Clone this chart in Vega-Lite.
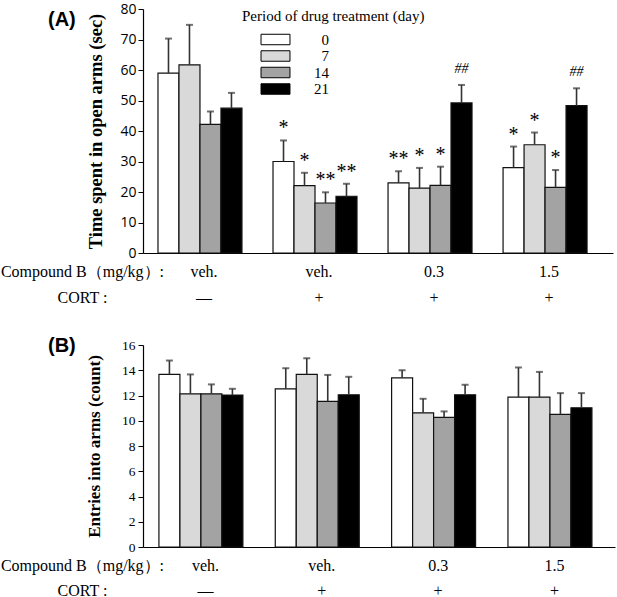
{
  "$schema": "https://vega.github.io/schema/vega-lite/v6.json",
  "padding": {"left": 0, "top": 2, "right": 2, "bottom": 0},
  "background": "white",
  "config": {"view": {"stroke": null}, "font": "Liberation Serif"},
  "spacing": 31,
  "resolve": {"scale": {"fill": "independent", "y": "independent", "x": "independent"}, "legend": {"fill": "independent"}},
  "datasets": {
    "openArms": [
      {"group": "veh.|—", "day": "0", "mean": 59.0, "upper": 70.3, "sig": null},
      {"group": "veh.|—", "day": "7", "mean": 61.7, "upper": 74.8, "sig": null},
      {"group": "veh.|—", "day": "14", "mean": 42.2, "upper": 46.4, "sig": null},
      {"group": "veh.|—", "day": "21", "mean": 47.5, "upper": 52.5, "sig": null},
      {"group": "veh.|+", "day": "0", "mean": 30.0, "upper": 36.9, "sig": "*"},
      {"group": "veh.|+", "day": "7", "mean": 22.1, "upper": 26.3, "sig": "*"},
      {"group": "veh.|+", "day": "14", "mean": 16.4, "upper": 19.9, "sig": "**"},
      {"group": "veh.|+", "day": "21", "mean": 18.6, "upper": 22.7, "sig": "**"},
      {"group": "0.3|+", "day": "0", "mean": 23.0, "upper": 26.8, "sig": "**"},
      {"group": "0.3|+", "day": "7", "mean": 21.3, "upper": 27.9, "sig": "*"},
      {"group": "0.3|+", "day": "14", "mean": 22.2, "upper": 28.3, "sig": "*"},
      {"group": "0.3|+", "day": "21", "mean": 49.2, "upper": 55.1, "sig": "##"},
      {"group": "1.5|+", "day": "0", "mean": 28.0, "upper": 34.9, "sig": "*"},
      {"group": "1.5|+", "day": "7", "mean": 35.5, "upper": 39.5, "sig": "*"},
      {"group": "1.5|+", "day": "14", "mean": 21.5, "upper": 27.2, "sig": "*"},
      {"group": "1.5|+", "day": "21", "mean": 48.3, "upper": 54.0, "sig": "##"}
    ],
    "entries": [
      {"group": "veh.|—", "day": "0", "mean": 13.67, "upper": 14.77},
      {"group": "veh.|—", "day": "7", "mean": 12.13, "upper": 13.67},
      {"group": "veh.|—", "day": "14", "mean": 12.13, "upper": 12.88},
      {"group": "veh.|—", "day": "21", "mean": 12.03, "upper": 12.53},
      {"group": "veh.|+", "day": "0", "mean": 12.53, "upper": 14.16},
      {"group": "veh.|+", "day": "7", "mean": 13.67, "upper": 14.95},
      {"group": "veh.|+", "day": "14", "mean": 11.53, "upper": 13.63},
      {"group": "veh.|+", "day": "21", "mean": 12.06, "upper": 13.48},
      {"group": "0.3|+", "day": "0", "mean": 13.4, "upper": 14.0},
      {"group": "0.3|+", "day": "7", "mean": 10.63, "upper": 11.74},
      {"group": "0.3|+", "day": "14", "mean": 10.27, "upper": 10.74},
      {"group": "0.3|+", "day": "21", "mean": 12.06, "upper": 12.85},
      {"group": "1.5|+", "day": "0", "mean": 11.87, "upper": 14.22},
      {"group": "1.5|+", "day": "7", "mean": 11.87, "upper": 13.87},
      {"group": "1.5|+", "day": "14", "mean": 10.5, "upper": 12.19},
      {"group": "1.5|+", "day": "21", "mean": 11.03, "upper": 12.19}
    ]
  },
  "vconcat": [
    {
      "width": 470,
      "height": 244,
      "data": {"name": "openArms"},
      "title": {"text": "(A)", "anchor": "start", "frame": "group", "font": "Liberation Sans", "fontSize": 20, "fontWeight": "bold", "color": "#000", "dx": -95, "dy": 28, "offset": 0},
      "encoding": {
        "x": {
          "field": "group", "type": "nominal",
          "sort": ["veh.|—", "veh.|+", "0.3|+", "1.5|+"],
          "scale": {"paddingInner": 0.27, "paddingOuter": 0.178, "align": 0.366},
          "axis": {
            "title": ["Compound B（mg/kg）:", "CORT :"],
            "labelExpr": "split(datum.label, '|')",
            "labelAngle": 0, "ticks": false, "tickSize": 0, "labelPadding": 10,
            "labelFont": "Liberation Serif", "labelFontSize": 16, "labelLineHeight": 26,
            "labelColor": "#000", "labelOffset": 4, "labelBaseline": "top",
            "domainColor": "#000", "domainWidth": 1.2,
            "titleFont": "Liberation Serif", "titleFontSize": 16, "titleFontWeight": "normal",
            "titleLineHeight": 26, "titleX": -61, "titleY": 10, "titleAlign": "center",
            "titleBaseline": "top", "titleAngle": 0, "titleColor": "#000"
          }
        },
        "xOffset": {"field": "day", "type": "nominal", "sort": ["0", "7", "14", "21"], "scale": {"paddingInner": 0, "paddingOuter": 0}}
      },
      "layer": [
        {
          "mark": {"type": "bar", "stroke": "#111", "strokeWidth": 1.2},
          "encoding": {
            "y": {
              "field": "mean", "type": "quantitative",
              "scale": {"domain": [0, 80], "nice": false},
              "axis": {
                "title": "Time spent in open  arms (sec)",
                "titleFont": "Liberation Serif", "titleFontSize": 18.5, "titleFontWeight": "bold",
                "titleColor": "#000", "titlePadding": 14,
                "values": [0, 10, 20, 30, 40, 50, 60, 70, 80],
                "labelOverlap": false, "labelFlush": false,
                "labelFont": "Open Sans", "labelFontSize": 14, "labelColor": "#000",
                "tickSize": 5, "tickColor": "#000", "domainColor": "#000", "domainWidth": 1.2,
                "grid": false, "labelPadding": 2
              }
            },
            "fill": {
              "field": "day", "type": "nominal", "sort": ["0", "7", "14", "21"],
              "scale": {"domain": ["0", "7", "14", "21"], "range": ["#ffffff", "#d9d9d9", "#a3a3a3", "#000000"]},
              "legend": {
                "title": "Period of drug treatment (day)",
                "orient": "none", "legendX": 99, "legendY": 0, "padding": 0,
                "titleFont": "Liberation Serif", "titleFontSize": 15, "titleFontWeight": "normal",
                "titleColor": "#000", "titlePadding": 8, "titleLimit": 400,
                "labelFont": "Liberation Serif", "labelFontSize": 15, "labelColor": "#000",
                "labelAlign": "right", "labelOffset": 46,
                "symbolType": "M-2.76,-1H2.76V1H-2.76Z", "symbolSize": 110,
                "symbolStrokeColor": "#000", "symbolStrokeWidth": 1, "symbolOffset": 26,
                "rowPadding": 0.5
              }
            }
          }
        },
        {
          "mark": {"type": "rule", "color": "#333", "strokeWidth": 1.6},
          "encoding": {
            "y": {
              "field": "mean", "type": "quantitative",
              "axis": {
                "title": "Time spent in open  arms (sec)",
                "titleFont": "Liberation Serif", "titleFontSize": 18.5, "titleFontWeight": "bold",
                "titleColor": "#000", "titlePadding": 14,
                "values": [0, 10, 20, 30, 40, 50, 60, 70, 80],
                "labelOverlap": false, "labelFlush": false,
                "labelFont": "Open Sans", "labelFontSize": 14, "labelColor": "#000",
                "tickSize": 5, "tickColor": "#000", "domainColor": "#000", "domainWidth": 1.2,
                "grid": false, "labelPadding": 2
              }
            },
            "y2": {"field": "upper"}
          }
        },
        {
          "mark": {"type": "tick", "color": "#333", "thickness": 2, "size": 7},
          "encoding": {
            "y": {
              "field": "upper", "type": "quantitative",
              "axis": {
                "title": "Time spent in open  arms (sec)",
                "titleFont": "Liberation Serif", "titleFontSize": 18.5, "titleFontWeight": "bold",
                "titleColor": "#000", "titlePadding": 14,
                "values": [0, 10, 20, 30, 40, 50, 60, 70, 80],
                "labelOverlap": false, "labelFlush": false,
                "labelFont": "Open Sans", "labelFontSize": 14, "labelColor": "#000",
                "tickSize": 5, "tickColor": "#000", "domainColor": "#000", "domainWidth": 1.2,
                "grid": false, "labelPadding": 2
              }
            }
          }
        },
        {
          "transform": [{"filter": "isValid(datum.sig) && datum.sig != '##'"}],
          "mark": {"type": "text", "font": "Liberation Serif", "fontSize": 20, "baseline": "alphabetic", "dy": -6, "color": "#000"},
          "encoding": {
            "y": {
              "field": "upper", "type": "quantitative",
              "axis": {
                "title": "Time spent in open  arms (sec)",
                "titleFont": "Liberation Serif", "titleFontSize": 18.5, "titleFontWeight": "bold",
                "titleColor": "#000", "titlePadding": 14,
                "values": [0, 10, 20, 30, 40, 50, 60, 70, 80],
                "labelOverlap": false, "labelFlush": false,
                "labelFont": "Open Sans", "labelFontSize": 14, "labelColor": "#000",
                "tickSize": 5, "tickColor": "#000", "domainColor": "#000", "domainWidth": 1.2,
                "grid": false, "labelPadding": 2
              }
            },
            "text": {"field": "sig"}
          }
        },
        {
          "transform": [{"filter": "datum.sig == '##'"}],
          "mark": {"type": "text", "font": "Liberation Serif", "fontSize": 14, "fontStyle": "italic", "baseline": "alphabetic", "dy": -12, "color": "#000"},
          "encoding": {
            "y": {
              "field": "upper", "type": "quantitative",
              "axis": {
                "title": "Time spent in open  arms (sec)",
                "titleFont": "Liberation Serif", "titleFontSize": 18.5, "titleFontWeight": "bold",
                "titleColor": "#000", "titlePadding": 14,
                "values": [0, 10, 20, 30, 40, 50, 60, 70, 80],
                "labelOverlap": false, "labelFlush": false,
                "labelFont": "Open Sans", "labelFontSize": 14, "labelColor": "#000",
                "tickSize": 5, "tickColor": "#000", "domainColor": "#000", "domainWidth": 1.2,
                "grid": false, "labelPadding": 2
              }
            },
            "text": {"field": "sig"}
          }
        }
      ]
    },
    {
      "width": 472,
      "height": 202,
      "data": {"name": "entries"},
      "title": {"text": "(B)", "anchor": "start", "frame": "group", "font": "Liberation Sans", "fontSize": 20, "fontWeight": "bold", "color": "#000", "dx": -95, "dy": 18, "offset": 0},
      "encoding": {
        "x": {
          "field": "group", "type": "nominal",
          "sort": ["veh.|—", "veh.|+", "0.3|+", "1.5|+"],
          "scale": {"paddingInner": 0.269, "paddingOuter": 0.163, "align": 0.42},
          "axis": {
            "title": ["Compound B（mg/kg）:", "CORT :"],
            "labelExpr": "split(datum.label, '|')",
            "labelAngle": 0, "ticks": false, "tickSize": 0, "labelPadding": 10,
            "labelFont": "Liberation Serif", "labelFontSize": 16, "labelLineHeight": 25,
            "labelColor": "#000", "labelOffset": 4, "labelBaseline": "top",
            "domainColor": "#000", "domainWidth": 1.2,
            "titleFont": "Liberation Serif", "titleFontSize": 16, "titleFontWeight": "normal",
            "titleLineHeight": 25, "titleX": -61, "titleY": 10, "titleAlign": "center",
            "titleBaseline": "top", "titleAngle": 0, "titleColor": "#000"
          }
        },
        "xOffset": {"field": "day", "type": "nominal", "sort": ["0", "7", "14", "21"], "scale": {"paddingInner": 0, "paddingOuter": 0}}
      },
      "layer": [
        {
          "mark": {"type": "bar", "stroke": "#111", "strokeWidth": 1.2},
          "encoding": {
            "y": {
              "field": "mean", "type": "quantitative",
              "scale": {"domain": [0, 16], "nice": false},
              "axis": {
                "title": "Entries into arms (count)",
                "titleFont": "Liberation Serif", "titleFontSize": 17, "titleFontWeight": "bold",
                "titleColor": "#000", "titlePadding": 18,
                "values": [0, 2, 4, 6, 8, 10, 12, 14, 16],
                "labelOverlap": false, "labelFlush": false,
                "labelFont": "Liberation Serif", "labelFontSize": 13.5, "labelColor": "#000",
                "tickSize": 5, "tickColor": "#000", "domainColor": "#000", "domainWidth": 1.2,
                "grid": false, "labelPadding": 3
              }
            },
            "fill": {
              "field": "day", "type": "nominal", "sort": ["0", "7", "14", "21"],
              "scale": {"domain": ["0", "7", "14", "21"], "range": ["#ffffff", "#d9d9d9", "#a3a3a3", "#000000"]},
              "legend": null
            }
          }
        },
        {
          "mark": {"type": "rule", "color": "#333", "strokeWidth": 1.6},
          "encoding": {
            "y": {
              "field": "mean", "type": "quantitative",
              "axis": {
                "title": "Entries into arms (count)",
                "titleFont": "Liberation Serif", "titleFontSize": 17, "titleFontWeight": "bold",
                "titleColor": "#000", "titlePadding": 18,
                "values": [0, 2, 4, 6, 8, 10, 12, 14, 16],
                "labelOverlap": false, "labelFlush": false,
                "labelFont": "Liberation Serif", "labelFontSize": 13.5, "labelColor": "#000",
                "tickSize": 5, "tickColor": "#000", "domainColor": "#000", "domainWidth": 1.2,
                "grid": false, "labelPadding": 3
              }
            },
            "y2": {"field": "upper"}
          }
        },
        {
          "mark": {"type": "tick", "color": "#333", "thickness": 2, "size": 7},
          "encoding": {
            "y": {
              "field": "upper", "type": "quantitative",
              "axis": {
                "title": "Entries into arms (count)",
                "titleFont": "Liberation Serif", "titleFontSize": 17, "titleFontWeight": "bold",
                "titleColor": "#000", "titlePadding": 18,
                "values": [0, 2, 4, 6, 8, 10, 12, 14, 16],
                "labelOverlap": false, "labelFlush": false,
                "labelFont": "Liberation Serif", "labelFontSize": 13.5, "labelColor": "#000",
                "tickSize": 5, "tickColor": "#000", "domainColor": "#000", "domainWidth": 1.2,
                "grid": false, "labelPadding": 3
              }
            }
          }
        }
      ]
    }
  ]
}
